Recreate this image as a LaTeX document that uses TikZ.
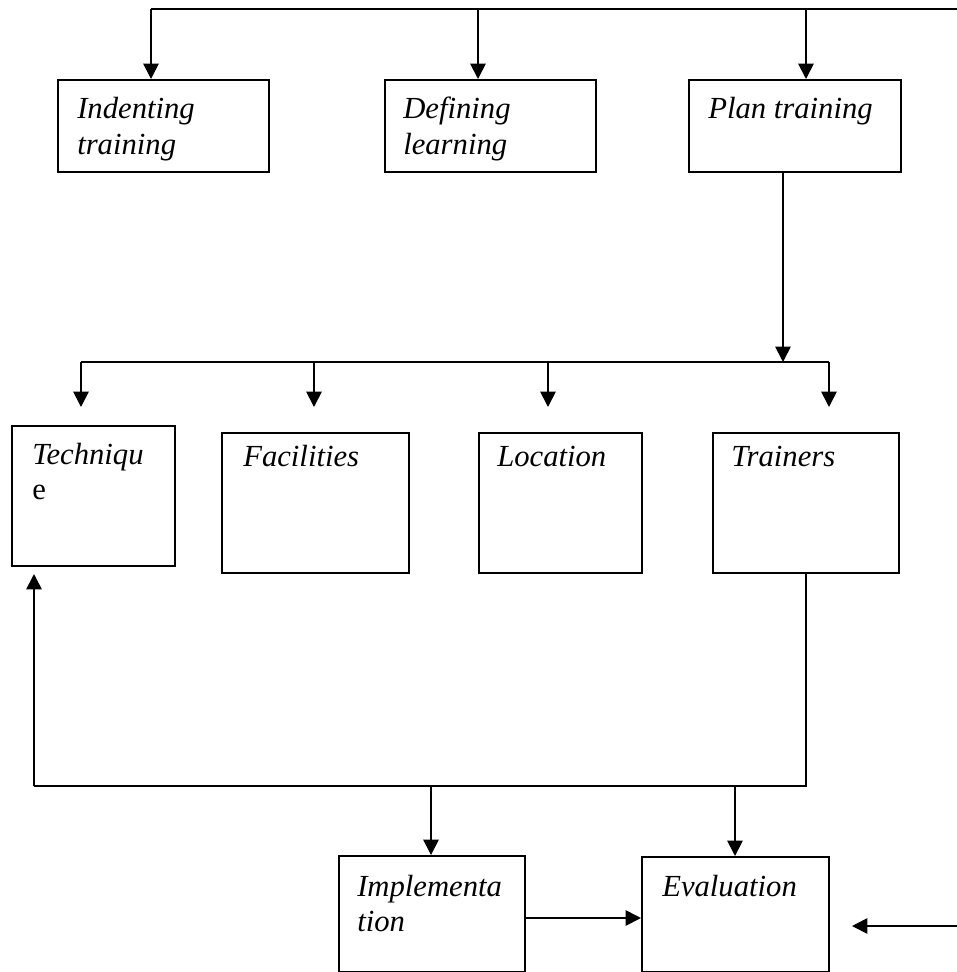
\documentclass[tikz,border=0pt]{standalone}
\usepackage{fontspec}
\setmainfont{Liberation Serif}
\usetikzlibrary{arrows.meta}
\tikzset{
  box/.style={draw, line width=1.3pt, rectangle, inner sep=0pt},
  lbl/.style={anchor=base west, inner sep=0pt, font=\fontsize{23}{27}\selectfont\itshape},
  lblup/.style={anchor=base west, inner sep=0pt, font=\fontsize{23}{27}\selectfont},
  conn/.style={line width=1.3pt},
  arr/.style={line width=1.3pt, -{Triangle[length=11.5pt,width=11.5pt]}},
}
\begin{document}
\begin{tikzpicture}[x=0.75pt,y=-0.75pt]
\useasboundingbox (0,0) rectangle (957,972);
% boxes
\node[box, minimum width=211*0.75pt, minimum height=92*0.75pt, anchor=north west] (ind) at (57,79) {};
\node[box, minimum width=211*0.75pt, minimum height=92*0.75pt, anchor=north west] (def) at (384,79) {};
\node[box, minimum width=212*0.75pt, minimum height=92*0.75pt, anchor=north west] (plan) at (688,79) {};
\node[box, minimum width=163*0.75pt, minimum height=140*0.75pt, anchor=north west] (tech) at (11,425) {};
\node[box, minimum width=187*0.75pt, minimum height=140*0.75pt, anchor=north west] (fac) at (221,432) {};
\node[box, minimum width=163*0.75pt, minimum height=140*0.75pt, anchor=north west] (loc) at (478,432) {};
\node[box, minimum width=186*0.75pt, minimum height=140*0.75pt, anchor=north west] (tra) at (712,432) {};
\node[box, minimum width=186*0.75pt, minimum height=116*0.75pt, anchor=north west] (imp) at (338,855) {};
\node[box, minimum width=187*0.75pt, minimum height=115*0.75pt, anchor=north west] (eva) at (641,856) {};
% texts
\node[lbl] (t1a) at (77,118) {Indenting};
\node[lbl] (t1b) at (77,154) {training};
\node[lbl] (t2a) at (403,118) {Defining};
\node[lbl] (t2b) at (403,154) {learning};
\node[lbl] (t3a) at (708,118) {Plan training};
\node[lbl] (t4a) at (32,464) {Techniqu};
\node[lblup] (t4b) at (32,499) {e};
\node[lbl] (t5a) at (243,466) {Facilities};
\node[lbl] (t6a) at (497,466) {Location};
\node[lbl] (t7a) at (731,466) {Trainers};
\node[lbl] (t8a) at (357,896) {Implementa};
\node[lbl] (t8b) at (357,931) {tion};
\node[lbl] (t9a) at (662,896) {Evaluation};
% coordinates
\coordinate (topL) at (151,9);
\coordinate (topR) at (957,9);
\coordinate (barL) at (81,362);
\coordinate (barR) at (829,362);
\coordinate (planJ) at (783,362);
\coordinate (lowL) at (34,786);
\coordinate (lowR) at (806,786);
\coordinate (rightIn) at (957,926);
\coordinate (evaIn) at (852,926);
% top distribution
\draw[conn] (topR) -- (topL);
\draw[arr] (topL) -- (topL |- ind.north);
\draw[arr] (478,9) -- (478,79);
\draw[arr] (806,9) -- (806,79);
% plan to middle bar
\draw[arr] (plan.south -| planJ) -- (planJ);
\draw[conn] (barL) -- (barR);
\draw[arr] (barL) -- (81,407);
\draw[arr] (314,362) -- (314,407);
\draw[arr] (548,362) -- (548,407);
\draw[arr] (barR) -- (829,407);
% trainers loop
\draw[conn] (tra.south -| lowR) -- (lowR) -- (lowL);
\draw[arr] (lowL) -- (34,574);
\draw[arr] (431,786) -- (imp.north -| 431,0);
\draw[arr] (735,786) -- (eva.north -| 735,0);
% implementation to evaluation
\draw[arr] (imp.east |- 0,918) -- (eva.west |- 0,918);
\draw[arr] (rightIn) -- (evaIn);
\end{tikzpicture}
\end{document}
